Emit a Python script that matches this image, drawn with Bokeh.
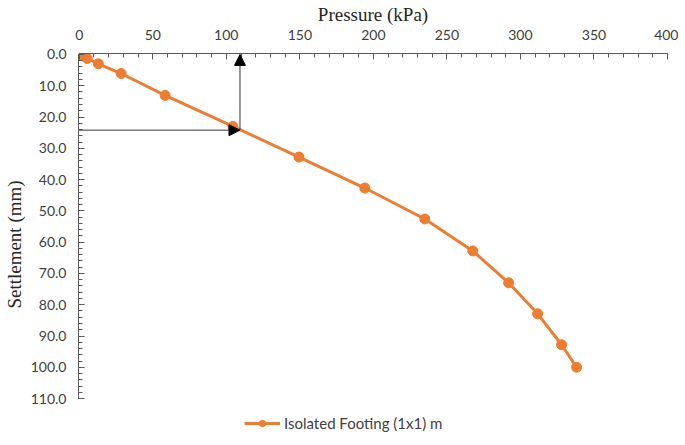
from bokeh.plotting import figure
from bokeh.models import Range1d, NumeralTickFormatter, FixedTicker, Arrow, NormalHead, Legend, LegendItem, ColumnDataSource
from bokeh.embed import file_html
from bokeh.resources import INLINE

# Data
pressure_kpa = [0, 2.7, 5.4, 13, 28.5, 58.4, 104.5, 149.4, 194.2, 235, 267.6, 292, 311.7, 328, 338.2]
settlement_mm = [0, 0.5, 1.3, 3, 6.1, 13.1, 23, 32.8, 42.7, 52.6, 62.8, 73, 82.9, 92.8, 100]
series_name = "Isolated Footing (1x1) m"
x_ticks = [0, 50, 100, 150, 200, 250, 300, 350, 400]
y_ticks = [0, 10, 20, 30, 40, 50, 60, 70, 80, 90, 100, 110]
y_axis_max = 110
# Design point marked by arrows
design_pressure = 109.3
design_settlement = 24.2

ORANGE = "#ED7D31"
TXT = "#404040"

AXIS_PX = 345          # pixel length of the 0..110 axis
FRAME_PX = 382         # frame extends below the axis to hold the legend
y_bottom = y_axis_max * FRAME_PX / AXIS_PX

p = figure(frame_width=589, frame_height=FRAME_PX, output_backend="svg", toolbar_location=None,
           x_axis_location="above",
           x_range=Range1d(-0.5, 400), y_range=Range1d(y_bottom, -0.3),
           min_border_left=0, min_border_right=11, min_border_top=0, min_border_bottom=0)
p.outline_line_color = None
p.xgrid.visible = False
p.ygrid.visible = False
p.background_fill_color = "white"

src = ColumnDataSource(dict(x=pressure_kpa, y=settlement_mm))
ln = p.line("x", "y", source=src, line_color=ORANGE, line_width=3)
sc = p.scatter("x", "y", source=src, size=10, fill_color=ORANGE, line_color=ORANGE)

# Arrows
p.add_layout(Arrow(end=NormalHead(size=11, fill_color="black", line_color="black"),
                   x_start=0, y_start=design_settlement, x_end=design_pressure, y_end=design_settlement,
                   line_color="#333333", line_width=1))
p.add_layout(Arrow(end=NormalHead(size=11, fill_color="black", line_color="black"),
                   x_start=design_pressure, y_start=design_settlement, x_end=design_pressure, y_end=0,
                   line_color="#333333", line_width=1))

for ax in (p.xaxis[0], p.yaxis[0]):
    ax.axis_line_color = "#595959"
    ax.major_tick_line_color = "#595959"
    ax.minor_tick_line_color = "#595959"
    ax.major_tick_in = 6
    ax.major_tick_out = 0
    ax.minor_tick_in = 4
    ax.minor_tick_out = 0
    ax.major_label_text_font = "Lato"
    ax.major_label_text_font_size = "14px"
    ax.major_label_text_color = TXT
    ax.axis_label_text_font = "Liberation Serif"
    ax.axis_label_text_font_size = "19px"
    ax.axis_label_text_font_style = "normal"
    ax.axis_label_text_color = "#262626"

p.xaxis.ticker = FixedTicker(ticks=x_ticks, minor_ticks=list(range(0, 401, 10)))
p.yaxis.ticker = FixedTicker(ticks=y_ticks, minor_ticks=list(range(0, 111, 2)))
p.xaxis.bounds = (0, 400)
p.yaxis.bounds = (0, y_axis_max)
p.yaxis.formatter = NumeralTickFormatter(format="0.0")
p.xaxis.axis_label = "Pressure (kPa)"
p.yaxis.axis_label = "Settlement (mm)"
p.xaxis.major_label_standoff = 14
p.xaxis.axis_label_standoff = 2
p.yaxis.major_label_standoff = 12
p.yaxis.axis_label_standoff = 3

legend = Legend(items=[LegendItem(label=series_name, renderers=[ln, sc])],
                orientation="horizontal", location=(166, 3),
                label_text_font="Lato", label_text_font_size="15px", label_text_color=TXT,
                border_line_color=None, background_fill_alpha=0,
                glyph_width=36, glyph_height=16, padding=0, margin=0, spacing=0,
                label_standoff=4, label_height=16)
p.add_layout(legend)

open("out.html", "w").write(file_html(p, INLINE))
